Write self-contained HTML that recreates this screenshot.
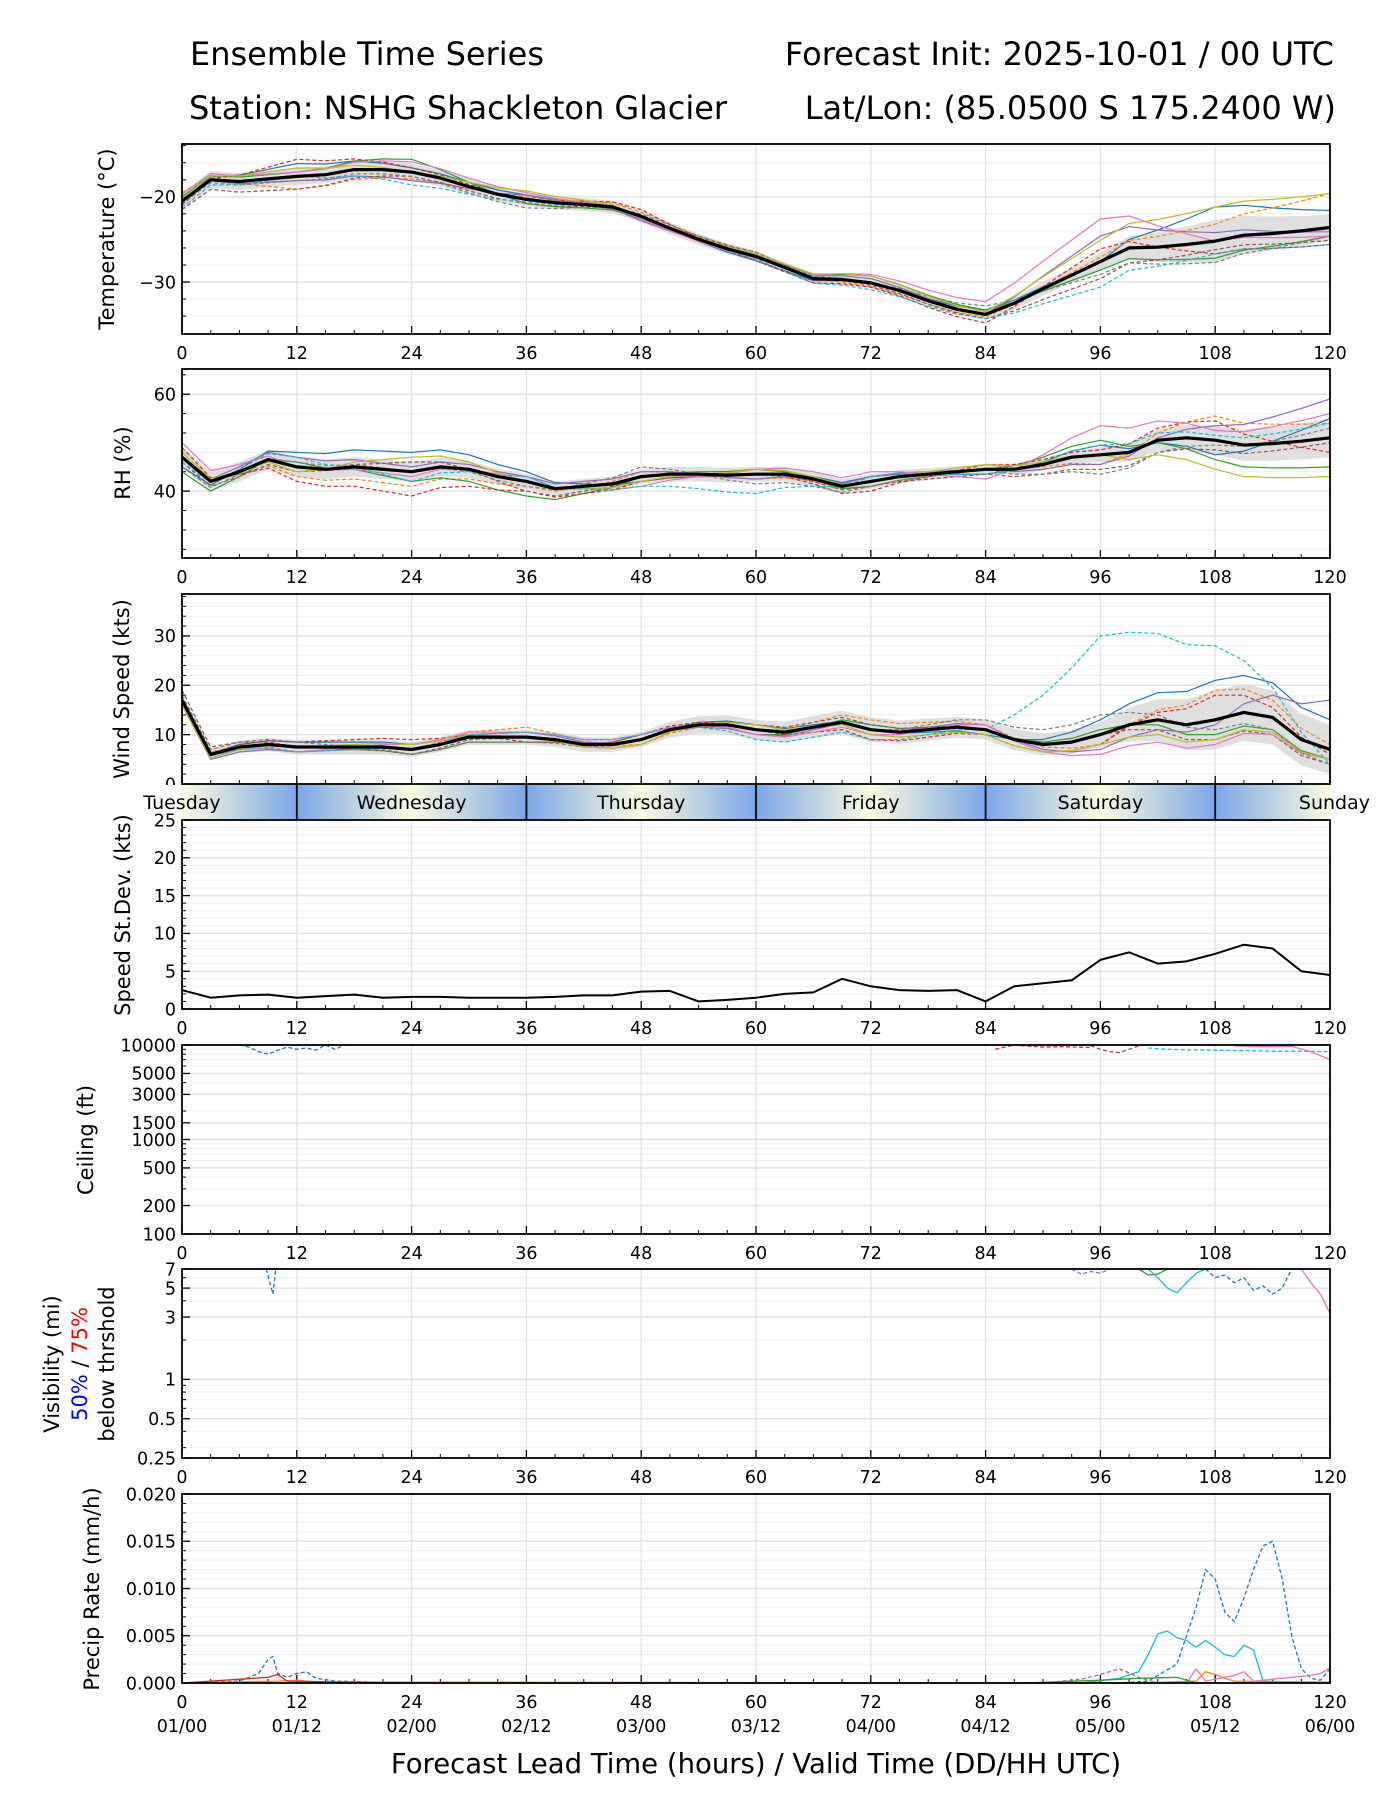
<!DOCTYPE html>
<html><head><meta charset="utf-8"><style>
body{margin:0;background:#fff}
svg{display:block;font-family:"DejaVu Sans","Liberation Sans",sans-serif}
</style></head><body>
<svg id="chart" width="1400" height="1800" viewBox="0 0 1400 1800">
<rect x="0" y="0" width="1400" height="1800" fill="#fff"/>
<text x="367" y="65" font-size="32" text-anchor="middle">Ensemble Time Series</text>
<text x="1334" y="65" font-size="32" text-anchor="end">Forecast Init: 2025-10-01 / 00 UTC</text>
<text x="458" y="119" font-size="32" text-anchor="middle">Station: NSHG Shackleton Glacier</text>
<text x="1336" y="119" font-size="32" text-anchor="end">Lat/Lon: (85.0500 S 175.2400 W)</text>
<defs>
<linearGradient id="dayg" x1="0" x2="1" y1="0" y2="0">
<stop offset="0" stop-color="#fafbe0"/><stop offset="0.5" stop-color="#7aa7e6"/><stop offset="0.5" stop-color="#7aa7e6"/><stop offset="1" stop-color="#fafbe0"/>
</linearGradient>
</defs>
<g id="layer"></g>
</svg>
<script>
// ---------- data ----------
const memberColors = ["#1f77b4","#ff7f0e","#2ca02c","#d62728","#9467bd","#8c564b","#e377c2","#7f7f7f","#bcbd22","#17becf"];
const devHours = [0,12,24,36,48,60,72,84,96,108,120];
const tempMean = [-20.5,-18.0,-18.2,-17.9,-17.6,-17.4,-16.8,-16.8,-17.1,-17.8,-18.8,-19.7,-20.3,-20.7,-20.9,-21.2,-22.3,-23.7,-25.0,-26.1,-27.0,-28.3,-29.6,-29.7,-30.1,-31.0,-32.2,-33.2,-33.8,-32.5,-30.8,-29.2,-27.6,-26.0,-25.9,-25.6,-25.2,-24.5,-24.3,-24.0,-23.6];
const tempBand = [1,1,1,0.8,0.7,0.6,0.6,0.6,1.0,2.5,1.5];
const tempDevs = [
 [0,1.5,0.5,0.5,0,-0.5,0,0.5,0,4,2],
 [1,-1.5,-0.8,0.3,0.5,0.3,-0.5,-0.3,0.5,2,4],
 [0.5,0.5,1.5,-0.5,-0.3,0,0.8,0.5,-1,-2,-1],
 [-0.5,2,0.5,0,0.8,-0.5,-0.5,-1,1.5,-1.5,-2],
 [0,-0.5,-1,0.5,-0.5,0.2,0.5,0,3,1,-0.5],
 [-1,-1.5,-0.5,-0.5,0,0.5,-0.3,-0.5,-2,-1,-1.5],
 [0.8,0.5,1.2,0.8,-0.3,-0.2,1,1.5,5,0,-1],
 [-0.3,-0.5,-0.5,-1,0.3,0.5,0,1,-1.5,-2.5,-1],
 [0.3,1,0,1,0,0.3,0.8,0.3,2.5,4,4],
 [-0.8,0,-1.5,-0.3,0.2,-0.3,-0.8,-0.5,-3,-1.5,-2]];
const rhMean = [47,42,44,46.5,45,44.5,45,44.5,44,45,44.5,43,42,40.5,41,41.5,43,43.5,43.5,43.3,43.5,43.5,42.5,41,42,43,43.5,44,44.5,44.5,45.5,47,47.5,48,50.5,51,50.5,49.5,49.8,50.3,51];
const rhBand = [2,2,2,1.5,1.5,1.5,1.5,1,1.5,3,4];
const rhDevs = [
 [-2,3,4,2,-1,0,1,-1,2,-3,4],
 [1,-2,-3,-1,1,-1,0,1,-2,5,3],
 [-3,1,-2,-3,0,1,-1,0,3,-4,-6],
 [2,-3,-5,-2,-1,0,-2,1,1,4,-3],
 [0,2,1,1,1,-1,1,0,-2,3,8],
 [-1,-1,2,-2,0,0,-1,-1,-3,-2,-1],
 [3,0,-1,1,-2,1,2,-2,6,2,5],
 [-2,1,0,-1,2,-2,-1,0,-4,-1,2],
 [1,-1,3,0,-1,1,0,1,0,-6,-8],
 [-1,2,-2,1,-2,-4,1,-1,2,1,3]];
const windMean = [17,6,7.5,8,7.5,7.5,7.5,7.5,7,8,9.5,9.5,9.5,9,8,8,9,11,12,12,11,10.5,11.5,12.5,11,10.5,11,11.5,11,9,8,8.5,10,12,13,12,13,14.5,13.5,9,7];
const windBand = [1,1.5,1.5,1.5,1.5,2,2.5,2,2.5,6,5];
const windDevs = [
 [0,1,1,0,0,1,0,-1,3,8,6],
 [1,-1,0,2,-1,0,2,1,-2,6,1],
 [-1,0,-1,-1,1,-1,1,0,1,-3,-2],
 [0,1,2,-1,1,0,-2,-1,-2,5,-1],
 [-1,-1,0,1,0,-1,0,1,-3,-1,10],
 [2,0,-1,0,-1,1,1,0,0,-4,-3],
 [0,-1,1,1,1,-1,-1,1,-4,-5,-2],
 [1,1,-1,-1,0,0,0,2,4,-2,-3],
 [-1,0,1,0,-1,1,-1,-1,-2,-4,-2],
 [0,-1,0,1,1,-2,-2,0,20,15,-3]];
const sdValues = [2.5,1.5,1.8,1.9,1.5,1.7,1.9,1.5,1.6,1.6,1.5,1.5,1.5,1.6,1.8,1.8,2.3,2.4,1.0,1.2,1.5,2.0,2.2,4.0,3.0,2.5,2.4,2.5,1.0,3.0,3.4,3.8,6.5,7.5,6.0,6.3,7.3,8.5,8.0,5.0,4.5];
const dayLabels = ["Tuesday","Wednesday","Thursday","Friday","Saturday","Sunday"];
const dateLabels = ["01/00","01/12","02/00","02/12","03/00","03/12","04/00","04/12","05/00","05/12","06/00"];
const ceilSeries = [
 {c:0, dash:true, h:[6,7,8,9,10,11,12,13,14,15,16,17], v:[10000,9500,8500,8000,8800,9500,9000,9300,8800,10000,9000,10000]},
 {c:3, dash:true, h:[85,86,87,88,90,92,95], v:[9000,9500,10000,9800,9500,9600,9400]},
 {c:5, dash:true, h:[95,96,97,98,99,100], v:[9800,9000,8500,8300,9000,9800]},
 {c:9, dash:true, h:[101,103,105,108,111,114,117,120], v:[9300,9000,8900,8800,8700,8600,8600,8500]},
 {c:6, dash:false, h:[110,113,116,118,120], v:[9800,9600,9700,8500,7000]}];
const visSeries = [
 {c:0, dash:true, h:[8.8,9.2,9.5,9.8], v:[7,5.5,4.5,7]},
 {c:4, dash:true, h:[93,94,95,96,97], v:[7,6.4,6.7,6.5,7]},
 {c:2, dash:false, h:[100,101,102,103], v:[7,6.3,6.4,7]},
 {c:9, dash:false, h:[101,102,103,104,105,106,107], v:[7,6,5,4.6,5.5,6.5,7]},
 {c:0, dash:true, h:[107,108,109,110,111,112,113,114,115,116], v:[7,6,6.3,5.5,6,4.8,5.2,4.5,5,7]},
 {c:6, dash:false, h:[117,118,119,120], v:[7,5.5,4.5,3.2]}];
const precSeries = [
 {c:0, dash:true, h:[0,6,8,9,9.5,10,11,12,13,14,16,20,28,98,101,104,105,106,107,108,109,110,111,112,113,114,115,116,117,118,119,120], v:[0,0.0002,0.001,0.0025,0.0028,0.001,0.0006,0.001,0.0012,0.0005,0.0002,0.0001,0,0,0.0002,0.002,0.005,0.008,0.012,0.011,0.0075,0.0065,0.009,0.012,0.0145,0.015,0.011,0.005,0.0015,0.0005,0.0003,0.0015]},
 {c:9, dash:false, h:[94,98,100,101,102,103,104,105,106,107,108,109,110,111,112,113,120], v:[0,0.0005,0.0012,0.003,0.0052,0.0055,0.0048,0.0045,0.0038,0.0045,0.0038,0.003,0.0028,0.004,0.0035,0.0002,0]},
 {c:4, dash:true, h:[90,94,96,98,100,102,120], v:[0,0.0004,0.0009,0.0015,0.0006,0,0]},
 {c:1, dash:false, h:[0,10,12,14,100,106,107,108,109,110,120], v:[0,0.0002,0.0003,0.0001,0,0.0002,0.0012,0.0009,0.0005,0.0002,0.0001]},
 {c:6, dash:false, h:[100,105,106,107,110,111,112,118,119,120], v:[0,0,0.0015,0.0002,0.0008,0.0012,0.0002,0.0008,0.001,0.0016]},
 {c:2, dash:false, h:[88,96,100,104,106,120], v:[0,0.0003,0.0005,0.0006,0,0]},
 {c:3, dash:false, h:[0,9,10,11,24], v:[0,0.0006,0.0009,0.0002,0]}];

// ---------- layout ----------
const X0=182, X1=1330;
const TICK=17.5;
const NS="http://www.w3.org/2000/svg";
const layer=document.getElementById('layer');
function el(tag, attrs, parent){const e=document.createElementNS(NS,tag);for(const k in attrs)e.setAttribute(k,attrs[k]);(parent||layer).appendChild(e);return e;}
const xs = h => X0 + (X1-X0)*h/120;
function linScale(lo,hi,top,bot){return v=>bot-(v-lo)/(hi-lo)*(bot-top);}
function logScale(lo,hi,top,bot){return v=>bot-(Math.log(v)-Math.log(lo))/(Math.log(hi)-Math.log(lo))*(bot-top);}
function interp(hs,vs,h){if(h<=hs[0])return vs[0];for(let i=1;i<hs.length;i++){if(h<=hs[i]){const f=(h-hs[i-1])/(hs[i]-hs[i-1]);return vs[i-1]+f*(vs[i]-vs[i-1]);}}return vs[vs.length-1];}
const meanHours = tempMean.map((_,i)=>i*3);

function panel(name, top, bot, yScale, majorTicks, minorGrid, labels, tickLabels){
  const g=el('g',{});
  
  
  minorGrid.forEach(v=>{const y=yScale(v);const l=el('line',{x1:X0,x2:X1,y1:y,y2:y,stroke:'#f2f2f2','stroke-width':1.2},g);
    
    });
  for(let h=0;h<=120;h+=12){const l=el('line',{x1:xs(h),x2:xs(h),y1:top,y2:bot,stroke:'#e3e3e3','stroke-width':1.3},g);
    
    }
  majorTicks.forEach((v,i)=>{const y=yScale(v);const l=el('line',{x1:X0,x2:X1,y1:y,y2:y,stroke:'#e3e3e3','stroke-width':1.5},g);
    
    
    el('line',{x1:X0,x2:X0+8,y1:y,y2:y,stroke:'#000','stroke-width':1.3},g);
    const t=el('text',{x:X0-6,y:y+6.3,'font-size':TICK,'text-anchor':'end'},g);t.textContent=labels[i];
    
    });
  minorGrid.forEach(v=>{const y=yScale(v);el('line',{x1:X0,x2:X0+4,y1:y,y2:y,stroke:'#000','stroke-width':1},g);});
  for(let h=0;h<=120;h+=3){const mj=h%12===0;el('line',{x1:xs(h),x2:xs(h),y1:bot,y2:bot-(mj?8:4),stroke:'#000','stroke-width':mj?1.3:1},g);}
  if(tickLabels){for(let h=0;h<=120;h+=12){const t=el('text',{x:xs(h),y:bot+25,'font-size':TICK,'text-anchor':'middle'},g);t.textContent=h;
    
    }}
  const clip=el('clipPath',{id:'clip-'+name},g);el('rect',{x:X0,y:top,width:X1-X0,height:bot-top},clip);
  const data=el('g',{'clip-path':'url(#clip-'+name+')'},g);
  
  
  const frame=el('rect',{x:X0,y:top,width:X1-X0,height:bot-top,fill:'none',stroke:'#000','stroke-width':1.8},g);
  
  
  return data;
}
function ylabel(lines,x,cy,size){
  const t=el('text',{transform:`translate(${x},${cy}) rotate(-90)`,'font-size':size||21,'text-anchor':'middle'});
  t.innerHTML=lines;
  
  
}
function path(g,pts,color,width,dash,name){
  const p=el('path',{d:'M'+pts.map(p=>p[0].toFixed(1)+','+p[1].toFixed(1)).join('L'),fill:'none',stroke:color,'stroke-width':width,'stroke-dasharray':dash?'4,2.5':'none','stroke-linejoin':'round'},g);
  
  
  return p;
}
function ensemble(g, mean, band, devs, ys){
  const up=[],lo=[];
  for(let h=0;h<=120;h+=1){const m=interp(meanHours,mean,h),b=interp(devHours,band,h);up.push([xs(h),ys(m+b)]);lo.unshift([xs(h),ys(m-b)]);}
  const b=el('path',{d:'M'+up.concat(lo).map(p=>p[0].toFixed(1)+','+p[1].toFixed(1)).join('L')+'Z',fill:'#d9d9d9','fill-opacity':0.85},g);
  
  
  devs.forEach((d,k)=>{const pts=[];for(let h=0;h<=120;h+=1){pts.push([xs(h),ys(interp(meanHours,mean,h)+interp(devHours,d,h))]);}
    path(g,pts,memberColors[k],1.2,k%2===1,'member-line-'+k);});
  const mp=mean.map((v,i)=>[xs(meanHours[i]),ys(v)]);
  path(g,mp,'#000',3.2,false,'ensemble-mean-line');
}
function sparse(g,series,ys,name){
  series.forEach((s,k)=>{path(g,s.h.map((h,i)=>[xs(h),ys(s.v[i])]),memberColors[s.c],1.3,s.dash,name+'-'+k);});
}
// Temperature
let ys=linScale(-36.1,-13.8,144,334);
let g=panel('temperature',144,334,ys,[-20,-30],[-34,-32,-28,-26,-24,-22,-18,-16,-14],['\u221220','\u221230'],true);
ensemble(g,tempMean,tempBand,tempDevs,ys);
ylabel('Temperature (°C)',114,239);
// RH
ys=linScale(26.2,65.2,369,558);
g=panel('rh',369,558,ys,[60,40],[28,32,36,44,48,52,56,64],['60','40'],true);
ensemble(g,rhMean,rhBand,rhDevs,ys);
ylabel('RH (%)',130,463);
// Wind
ys=linScale(0,38.5,594,784);
g=panel('wind',594,784,ys,[0,10,20,30],[2,4,6,8,12,14,16,18,22,24,26,28,32,34,36,38],['0','10','20','30'],false);
ensemble(g,windMean,windBand,windDevs,ys);
ylabel('Wind Speed (kts)',129,689);
// Day bar
const bar=el('g',{});


for(let d=-1;d<5;d++){el('rect',{x:xs(d*24),y:785,width:xs(24)-X0,height:34,fill:'url(#dayg)'},bar);}
el('rect',{x:0,y:785,width:X0,height:34,fill:'#fff'},bar);
el('rect',{x:X1,y:785,width:70,height:34,fill:'#fff'},bar);
for(let h=12;h<120;h+=24){el('line',{x1:xs(h),x2:xs(h),y1:785,y2:819,stroke:'#000','stroke-width':1.8},bar);}
dayLabels.forEach((n,i)=>{const t=el('text',{x:xs(i*24),y:809,'font-size':19,'text-anchor':i===5?'end':'middle'},bar);
  if(i===5){t.setAttribute('x',1370);}
  t.textContent=n;
  
  });
// StDev
ys=linScale(0,25,820,1009);
const sdMinor=[];for(let v=1;v<25;v++){if(v%5)sdMinor.push(v);}
g=panel('speed-stdev',820,1009,ys,[0,5,10,15,20,25],sdMinor,['0','5','10','15','20','25'],true);
path(g,sdValues.map((v,i)=>[xs(meanHours[i]),ys(v)]),'#000',2,false,'stdev-line');
ylabel('Speed St.Dev. (kts)',130,915);
// Ceiling
ys=logScale(100,10000,1045,1234);
g=panel('ceiling',1045,1234,ys,[100,200,500,1000,1500,3000,5000,10000],[300,400,600,700,800,900,2000,4000,6000,7000,8000,9000],['100','200','500','1000','1500','3000','5000','10000'],true);
sparse(g,ceilSeries,ys,'ceiling-line');
ylabel('Ceiling (ft)',93,1140);
// Visibility
ys=logScale(0.25,7,1269,1458);
g=panel('visibility',1269,1458,ys,[0.25,0.5,1,3,5,7],[0.3,0.4,0.6,0.7,0.8,0.9,2,4,6],['0.25','0.5','1','3','5','7'],true);
sparse(g,visSeries,ys,'visibility-line');
ylabel('Visibility (mi)',59,1364);
ylabel('<tspan fill="#0000ff">50%</tspan> / <tspan fill="#ff0000">75%</tspan>',87,1364);
ylabel('below thrshold',114,1364);
// Precip
ys=linScale(0,0.02,1494,1683);
const pm=[];for(let v=1;v<20;v++){if(v%5)pm.push(v/1000);}
g=panel('precip',1494,1683,ys,[0,0.005,0.01,0.015,0.02],pm,['0.000','0.005','0.010','0.015','0.020'],true);
sparse(g,precSeries,ys,'precip-line');
ylabel('Precip Rate (mm/h)',99,1589);
dateLabels.forEach((d,i)=>{const t=el('text',{x:xs(i*12),y:1732,'font-size':TICK,'text-anchor':'middle'});t.textContent=d;
  
  });
const xt=el('text',{x:756,y:1773,'font-size':27.5,'text-anchor':'middle'});
xt.textContent='Forecast Lead Time (hours) / Valid Time (DD/HH UTC)';


</script>
</body></html>
